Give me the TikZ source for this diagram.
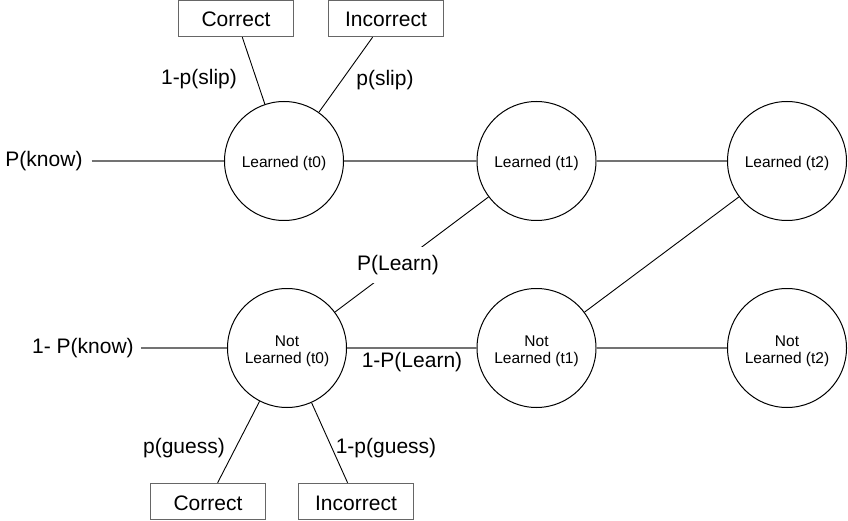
\documentclass[tikz,border=0pt]{standalone}
\usepackage{fontspec}
\setmainfont{Liberation Sans}
\begin{document}
\begin{tikzpicture}[x=1pt,y=-1pt,
  state/.style={circle, draw=black, line width=1pt, minimum size=119pt, inner sep=0pt,
    font=\fontsize{15.5}{17}\selectfont, align=center},
  onel/.style={state, text height=12.6pt, text depth=0pt},
  twol/.style={state, text height=30pt, text depth=0pt},
  outcome/.style={draw=black!60, line width=1.4pt, minimum width=115pt, minimum height=36pt,
    inner sep=0pt, text height=17pt, text depth=0pt, font=\fontsize{21}{25}\selectfont},
  lbl/.style={font=\fontsize{21}{25}\selectfont, inner sep=0pt},
  hline/.style={draw=black!55, line width=1.8pt},
  dline/.style={draw=black, line width=0.9pt}]
\useasboundingbox (0,0) rectangle (848,521);

% states
\node[onel] (L0) at (284,161) {Learned (t0)};
\node[onel] (L1) at (536.5,161) {Learned (t1)};
\node[onel] (L2) at (787,161) {Learned (t2)};
\node[twol] (N0) at (287,348) {Not\\Learned (t0)};
\node[twol] (N1) at (536.5,348) {Not\\Learned (t1)};
\node[twol] (N2) at (787,348) {Not\\Learned (t2)};

% outcomes
\node[outcome] (CT) at (236,18.5) {Correct};
\node[outcome] (IT) at (386,18.5) {Incorrect};
\node[outcome] (CB) at (208,501.5) {Correct};
\node[outcome] (IB) at (356,501.5) {Incorrect};

% priors
\node[lbl, inner xsep=9pt] (pk) at (44,161) {P(know)};
\node[lbl, inner xsep=7pt] (npk) at (83,348) {1- P(know)};

% free labels
\node[lbl] (slip1) at (199,79) {1-p(slip)};
\node[lbl] (slip) at (385,80) {p(slip)};
\node[lbl] (nlearn) at (412,362.5) {1-P(Learn)};
\node[lbl] (guess) at (184,448) {p(guess)};
\node[lbl] (guess1) at (386,448) {1-p(guess)};

% connectors
\draw[hline] (pk) -- (L0);
\draw[hline] (npk) -- (N0);
\draw[hline] (L0) -- (L1);
\draw[hline] (L1) -- (L2);
\draw[hline] (N0) -- (N1);
\draw[hline] (N1) -- (N2);

\draw[dline] (CT) -- (L0);
\draw[dline] (IT) -- (L0);
\draw[dline] (CB) -- (N0);
\draw[dline] (IB) -- (N0);
\draw[dline] (N0) -- node[pos=0.41, lbl, fill=white, inner ysep=8.5pt, inner xsep=2pt] (plearn) {P(Learn)} (L1);
\draw[dline] (N1) -- (L2);
\end{tikzpicture}
\end{document}
